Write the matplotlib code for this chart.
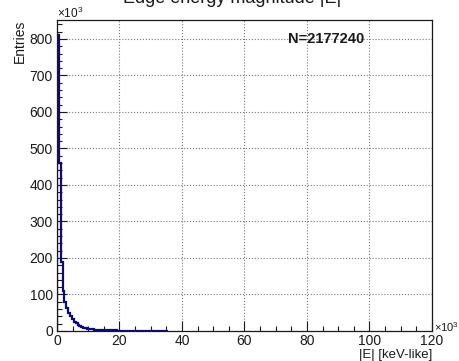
import numpy as np
import matplotlib
matplotlib.use("Agg")
import matplotlib.pyplot as plt
from matplotlib.ticker import MultipleLocator

plt.rcParams['font.family'] = ['Liberation Sans', 'DejaVu Sans']
plt.rcParams['mathtext.fontset'] = 'custom'
plt.rcParams['mathtext.rm'] = 'Liberation Sans'
plt.rcParams['mathtext.it'] = 'Liberation Sans:italic'

# data (counts in units of 1e3, bin width in units of 1e3 keV-like)
bin_width = 0.6
counts = [810, 460, 190, 110, 80, 62, 50, 40, 32, 26, 21, 17, 14, 11.5, 9.5, 8,
          6.8, 5.8, 5.0, 4.3, 3.7, 3.2, 2.8, 2.5, 2.2,
          2.0, 1.9, 1.8, 1.7, 1.6, 1.5, 1.4, 1.3, 1.25, 1.2, 1.1, 1.05, 1.0, 0.95,
          0.9, 0.85, 0.8, 0.78, 0.75, 0.7, 0.66, 0.62, 0.6, 0.56, 0.52, 0.5, 0.47,
          0.44, 0.4, 0.37, 0.34, 0.3, 0.27, 0.24]
title = "Edge energy magnitude |E|"
n_label = "N=2177240"
xlabel = "|E| [keV-like]"
ylabel = "Entries"

edges = np.arange(len(counts) + 1) * bin_width

fig = plt.figure(figsize=(4.6, 3.61), dpi=100)
ax = fig.add_axes([57/460, 30/361, 375/460, 311/361])

ax.stairs(counts, edges, color='#0a0a78', linewidth=1.6, baseline=0)

ax.set_xlim(0, 120)
ax.set_ylim(0, 852)
ax.xaxis.set_major_locator(MultipleLocator(20))
ax.xaxis.set_minor_locator(MultipleLocator(5))
ax.yaxis.set_major_locator(MultipleLocator(100))
ax.yaxis.set_minor_locator(MultipleLocator(20))
ax.tick_params(which='both', direction='in', top=False, right=False,
               labelsize=10, colors='#1a1a1a', labelcolor='#1a1a1a')
ax.tick_params(which='major', length=7, width=0.8)
ax.tick_params(axis='x', which='major', pad=2)
ax.tick_params(axis='y', which='major', pad=3)
ax.tick_params(which='minor', length=3.5, width=0.8)
ax.grid(True, which='major', linestyle=':', color='#777777', linewidth=0.8)
ax.set_axisbelow(True)
for s in ax.spines.values():
    s.set_color('#1a1a1a')
    s.set_linewidth(0.9)

ax.text(86, 800, n_label, ha='center', va='center', fontsize=10.5,
        fontweight='bold', color='#1a1a1a')

fig.text(57/460, 1 - 13/361, r'$\times10^{3}$', ha='left', va='center',
         fontsize=8.5, color='#1a1a1a')
fig.text(434/460, 1 - 327/361, r'$\times10^{3}$', ha='left', va='center',
         fontsize=8, color='#1a1a1a')
fig.text(432/460, 1 - 355/361, xlabel, ha='right', va='center',
         fontsize=9.5, color='#1a1a1a')
fig.text(20/460, 1 - 20/361, ylabel, ha='center', va='top', rotation=90,
         fontsize=10, color='#1a1a1a')
fig.text(232/460, 1 - 3/361, title, ha='center', va='baseline',
         fontsize=13, color='#1a1a1a')

fig.savefig('out.png', dpi=100)
